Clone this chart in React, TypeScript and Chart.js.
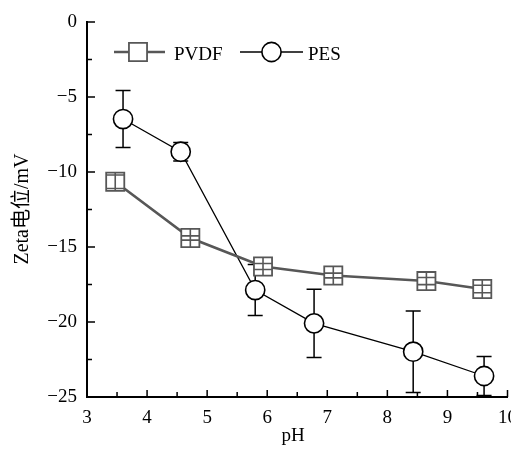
import React, { useEffect, useRef } from "react";
import { Chart, registerables } from "chart.js";

Chart.register(...registerables);

// ---- data ----
const phPVDF = [3.47, 4.72, 5.93, 7.1, 8.65, 9.58];
const zetaPVDF = [-10.65, -14.4, -16.3, -16.9, -17.27, -17.8];
const errPVDF = [0.45, 0.14, 0.2, 0.16, 0.24, 0.25];

const phPES = [3.6, 4.56, 5.8, 6.78, 8.43, 9.61];
const zetaPES = [-6.47, -8.65, -17.87, -20.09, -21.98, -23.6];
const errPES = [1.9, 0.62, 1.7, 2.27, 2.72, 1.3];

const seriesNames = ["PVDF", "PES"];
const xTitle = "pH";
const yTitle = "Zeta电位/mV";
const xMin = 3, xMax = 10, xStep = 1;
const yMin = -25, yMax = 0, yStep = 5;

const FONT = '"Liberation Serif", "Times New Roman", "Noto Sans CJK SC", serif';
const GRAY = "#575757";
const SQ_R = 12.8; // rect point radius (side = r*sqrt2)
const CIRC_R = 9.6;
const TICK_FONT = 19;
const X_PAD = 10;
// canvas is wider than the viewport so the last x label is cut like the reference
const CANVAS_W = 527;
const CANVAS_H = 451;

const customPlugin = {
  id: "customDecor",
  beforeDatasetsDraw(chart: any) {
    const ctx = chart.ctx;
    const xs = chart.scales.x;
    const ys = chart.scales.y;
    ctx.save();
    ctx.strokeStyle = "#000";
    ctx.lineWidth = 1.5;
    const cap = 7.5;
    phPES.forEach((p, i) => {
      const x = xs.getPixelForValue(p);
      const yt = ys.getPixelForValue(zetaPES[i] + errPES[i]);
      const yb = ys.getPixelForValue(zetaPES[i] - errPES[i]);
      ctx.beginPath();
      ctx.moveTo(x, yt);
      ctx.lineTo(x, yb);
      ctx.moveTo(x - cap, yt);
      ctx.lineTo(x + cap, yt);
      ctx.moveTo(x - cap, yb);
      ctx.lineTo(x + cap, yb);
      ctx.stroke();
    });
    ctx.restore();
  },
  afterDatasetsDraw(chart: any) {
    const ctx = chart.ctx;
    const xs = chart.scales.x;
    const ys = chart.scales.y;
    const ca = chart.chartArea;
    ctx.save();
    // PVDF error bars inside squares
    ctx.strokeStyle = GRAY;
    ctx.lineWidth = 1.6;
    const half = SQ_R * Math.SQRT1_2;
    phPVDF.forEach((p, i) => {
      const x = xs.getPixelForValue(p);
      const yc = ys.getPixelForValue(zetaPVDF[i]);
      const yt = ys.getPixelForValue(zetaPVDF[i] + errPVDF[i]);
      const yb = ys.getPixelForValue(zetaPVDF[i] - errPVDF[i]);
      ctx.beginPath();
      ctx.moveTo(x, yc - half);
      ctx.lineTo(x, yc + half);
      ctx.moveTo(x - half, yt);
      ctx.lineTo(x + half, yt);
      ctx.moveTo(x - half, yb);
      ctx.lineTo(x + half, yb);
      ctx.stroke();
    });

    // inward ticks
    ctx.strokeStyle = "#000";
    ctx.lineWidth = 1.5;
    ctx.beginPath();
    for (let v = xMin; v <= xMax + 1e-9; v += xStep / 2) {
      const x = xs.getPixelForValue(v);
      const major = Math.abs(v - Math.round(v)) < 1e-9;
      const len = major ? 7 : 5;
      ctx.moveTo(x, ca.bottom);
      ctx.lineTo(x, ca.bottom - len);
    }
    for (let v = yMin; v <= yMax + 1e-9; v += yStep / 2) {
      const y = ys.getPixelForValue(v);
      const major = Math.abs(v / yStep - Math.round(v / yStep)) < 1e-9;
      const len = major ? 8 : 5;
      ctx.moveTo(ca.left, y);
      ctx.lineTo(ca.left + len, y);
    }
    ctx.stroke();

    // legend
    const ly = 52;
    ctx.font = `19px ${FONT}`;
    ctx.fillStyle = "#000";
    ctx.textBaseline = "alphabetic";
    // PVDF
    ctx.strokeStyle = GRAY;
    ctx.lineWidth = 2.6;
    ctx.beginPath();
    ctx.moveTo(114, ly);
    ctx.lineTo(165, ly);
    ctx.stroke();
    ctx.fillStyle = "#fff";
    ctx.lineWidth = 1.8;
    ctx.beginPath();
    ctx.rect(138 - half, ly - half, 2 * half, 2 * half);
    ctx.fill();
    ctx.stroke();
    ctx.fillStyle = "#000";
    ctx.fillText(seriesNames[0], 174, 59.5);
    // PES
    ctx.strokeStyle = "#000";
    ctx.lineWidth = 1.4;
    ctx.beginPath();
    ctx.moveTo(240, ly);
    ctx.lineTo(303, ly);
    ctx.stroke();
    ctx.fillStyle = "#fff";
    ctx.lineWidth = 1.6;
    ctx.beginPath();
    ctx.arc(271.5, ly, CIRC_R, 0, Math.PI * 2);
    ctx.fill();
    ctx.stroke();
    ctx.fillStyle = "#000";
    ctx.fillText(seriesNames[1], 308, 59.5);

    // axis titles
    ctx.font = `19px ${FONT}`;
    ctx.textAlign = "center";
    ctx.fillText(xTitle, 293, 441);
    ctx.save();
    ctx.font = `20px ${FONT}`;
    ctx.translate(28, 209);
    ctx.rotate(-Math.PI / 2);
    ctx.textBaseline = "alphabetic";
    ctx.fillText(yTitle, 0, 0);
    ctx.restore();
    ctx.restore();
  },
};

export default function App() {
  const ref = useRef<HTMLCanvasElement | null>(null);
  useEffect(() => {
    if (!ref.current) return;
    const fmt = (v: any) => {
      const n = Number(v);
      return n < 0 ? "\u2212" + String(Math.abs(n)) : String(n);
    };
    const chart = new Chart(ref.current, {
      type: "line",
      data: {
        datasets: [
          {
            label: seriesNames[0],
            data: phPVDF.map((x, i) => ({ x, y: zetaPVDF[i] })),
            borderColor: GRAY,
            borderWidth: 2.6,
            pointStyle: "rect",
            pointRadius: SQ_R,
            pointBorderWidth: 1.8,
            pointBorderColor: GRAY,
            pointBackgroundColor: "#fff",
            tension: 0,
          },
          {
            label: seriesNames[1],
            data: phPES.map((x, i) => ({ x, y: zetaPES[i] })),
            borderColor: "#000",
            borderWidth: 1.3,
            pointStyle: "circle",
            pointRadius: CIRC_R,
            pointBorderWidth: 1.6,
            pointBorderColor: "#000",
            pointBackgroundColor: "#fff",
            tension: 0,
          },
        ],
      },
      options: {
        responsive: false,
        animation: false,
        events: [],
        layout: { padding: { top: 22, right: 0, left: 0, bottom: 0 } },
        plugins: { legend: { display: false }, tooltip: { enabled: false } },
        scales: {
          x: {
            type: "linear",
            min: xMin,
            max: xMax,
            grid: { display: true, drawOnChartArea: false, drawTicks: false },
            border: { display: true, color: "#000", width: 2 },
            ticks: {
              stepSize: xStep,
              padding: X_PAD,
              color: "#000",
              font: { family: FONT, size: TICK_FONT },
              maxRotation: 0,
              callback: fmt,
            },
            afterFit: (s: any) => {
              s.height = 54;
            },
          },
          y: {
            type: "linear",
            min: yMin,
            max: yMax,
            grid: { display: true, drawOnChartArea: false, drawTicks: false },
            border: { display: true, color: "#000", width: 2 },
            ticks: {
              stepSize: yStep,
              padding: 10,
              color: "#000",
              font: { family: FONT, size: TICK_FONT },
              callback: fmt,
            },
            afterFit: (s: any) => {
              s.width = 87;
            },
          },
        },
      },
      plugins: [customPlugin],
    } as any);
    return () => chart.destroy();
  }, []);
  return (
    <div
      style={{
        position: "fixed",
        left: 0,
        top: 0,
        width: 511,
        height: 451,
        overflow: "hidden",
        background: "#fff",
      }}
    >
      <canvas ref={ref} width={CANVAS_W} height={CANVAS_H} style={{ display: "block" }} />
    </div>
  );
}
